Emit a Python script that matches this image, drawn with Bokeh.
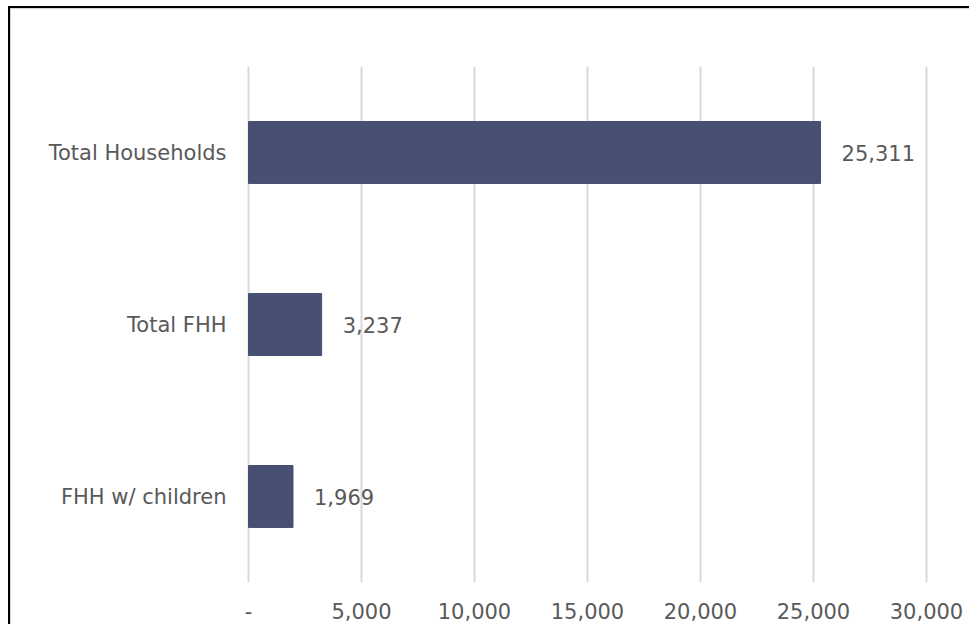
from bokeh.plotting import figure
from bokeh.models import ColumnDataSource, LabelSet, FixedTicker, NumeralTickFormatter
from bokeh.core.properties import value
from bokeh.embed import file_html
from bokeh.resources import INLINE

categories = ["FHH w/ children", "Total FHH", "Total Households"]
values = [1969, 3237, 25311]
x_ticks = [0, 5000, 10000, 15000, 20000, 25000, 30000]

FONT = "DejaVu Sans"
TXT = "#595959"
BAR = "#474F72"
FS = "21px"

src = ColumnDataSource(dict(cat=categories, val=values, lbl=[f"{v:,}" for v in values]))

pad = 5000 / 113 * 2
p = figure(width=961, height=618, y_range=categories, x_range=(-pad, 30000 + pad),
           output_backend="svg", toolbar_location=None,
           min_border_left=236, min_border_right=43, min_border_top=58, min_border_bottom=44)
p.margin = (6, 0, 0, 8)
p.styles = {"border-top": "2px solid black", "border-left": "2px solid black",
            "box-shadow": "inset 1px 1px 0 0 #D4D4D4"}
p.border_fill_color = None
p.background_fill_color = None
p.y_range.range_padding = 0
p.hbar(y="cat", right="val", left=0, height=0.36, source=src, color=BAR)

p.add_layout(LabelSet(x="val", y="cat", text="lbl", source=src, x_offset=21,
                      text_baseline="middle", text_align="left", text_font=value(FONT),
                      text_font_size=FS, text_color=TXT))

p.xaxis.ticker = FixedTicker(ticks=x_ticks)
p.xaxis.formatter = NumeralTickFormatter(format="0,0")
p.xaxis.major_label_overrides = {0: "-"}
for ax in (p.xaxis, p.yaxis):
    ax.axis_line_color = None
    ax.major_tick_line_color = None
    ax.minor_tick_line_color = None
    ax.major_label_text_font = FONT
    ax.major_label_text_font_size = FS
    ax.major_label_text_color = TXT
p.xaxis.major_label_standoff = 14
p.yaxis.major_label_standoff = 14

p.xgrid.grid_line_color = "#D9D9D9"
p.xgrid.grid_line_width = 2
p.ygrid.grid_line_color = None
p.outline_line_color = None

open("out.html", "w").write(file_html(p, INLINE))
